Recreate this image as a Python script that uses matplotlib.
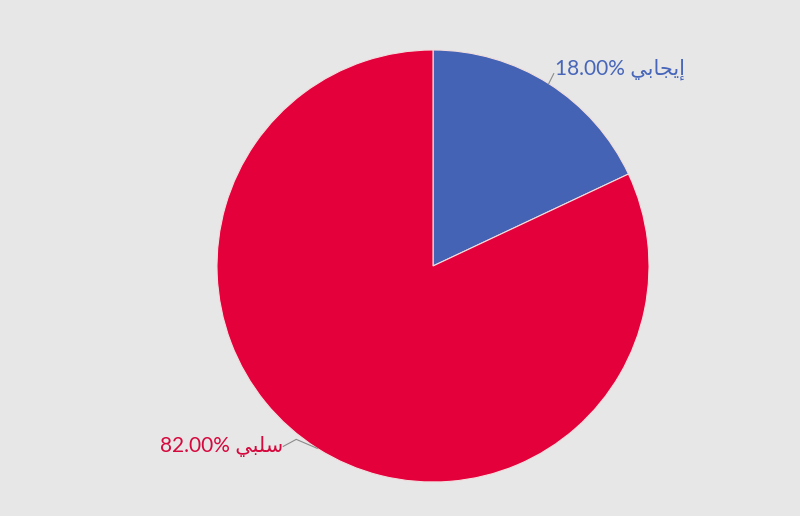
import numpy as np
import matplotlib
matplotlib.use('Agg')
import matplotlib.pyplot as plt

# data
labels = ['إيجابي', 'سلبي']
# presentation forms in visual order (matplotlib does no Arabic shaping)
labels_shaped = ['\uFEF2\uFE91\uFE8E\uFEA0\uFEF3\uFE87', '\uFEF2\uFE92\uFEE0\uFEB3']
values = [18.0, 82.0]
colors = ['#4463b4', '#e4003b']
text_colors = ['#4766ba', '#d6093e']

plt.rcParams['font.family'] = ['Lato', 'DejaVu Sans']

fig = plt.figure(figsize=(8, 5.16), dpi=100)
fig.patch.set_facecolor('#e7e7e7')
ax = fig.add_axes([0, 0, 1, 1])
ax.set_xlim(0, 800)
ax.set_ylim(0, 516)
ax.axis('off')

cx, cy, r = 433, 250, 216
wedges, _ = ax.pie(values, colors=colors, startangle=90, counterclock=False,
                   center=(cx, cy), radius=r, frame=True,
                   wedgeprops=dict(edgecolor='#f2dede', linewidth=0.8))
ax.set_xlim(0, 800)
ax.set_ylim(0, 516)
ax.set_aspect('equal')
ax.axis('off')

for i, w in enumerate(wedges):
    mid = np.deg2rad((w.theta1 + w.theta2) / 2)
    ex, ey = cx + r * np.cos(mid), cy + r * np.sin(mid)
    txt = '%.2f%% %s' % (values[i], labels_shaped[i])
    if np.cos(mid) > 0:
        ax.plot([ex, ex + 5], [ey, ey + 10], color='#8c8c8c', lw=0.8)
        ax.text(ex + 6, ey + 14, txt, color=text_colors[i], fontsize=15,
                ha='left', va='center')
    else:
        ax.plot([ex, ex - 21, ex - 34], [ey, ey + 9, ey + 2], color='#8c8c8c', lw=0.8)
        ax.text(ex - 34, ey + 2, txt, color=text_colors[i], fontsize=15,
                ha='right', va='center')

fig.savefig('out.png', dpi=100, facecolor=fig.get_facecolor())
